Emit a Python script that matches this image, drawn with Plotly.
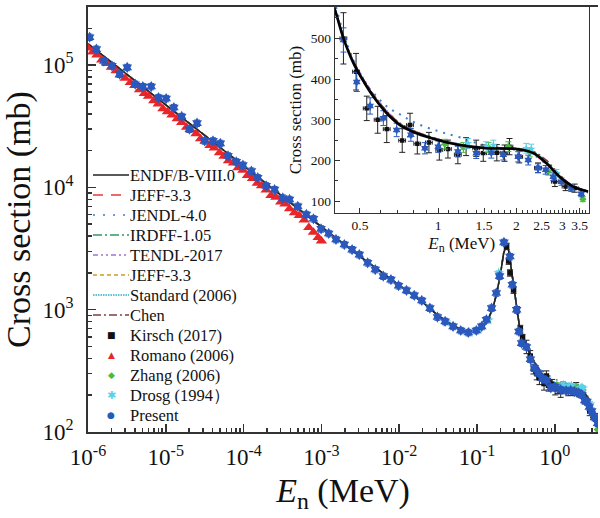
import plotly.graph_objects as go

# ---------------- data ----------------
eval_E = [1e-6, 3e-6, 1e-5, 3e-5, 1e-4, 3e-4, 1e-3, 3e-3, 0.01, 0.02, 0.03, 0.05, 0.07, 0.085,
          0.1, 0.12, 0.14, 0.16, 0.18, 0.2, 0.22, 0.24, 0.255, 0.27, 0.29, 0.32, 0.35, 0.38,
          0.401, 0.432, 0.472, 0.508, 0.563, 0.634, 0.713, 0.826, 1.0, 1.21, 1.53, 2.0, 2.32,
          2.61, 2.93, 3.30, 3.77]
endf = [149000, 86000, 47200, 27300, 14950, 8650, 4750, 2780, 1580, 1150, 920, 735, 668, 655,
        675, 735, 840, 1030, 1380, 1950, 2900, 3400, 3050, 2350, 1650, 1050, 740, 610,
        569, 500, 439, 402, 357, 316, 287, 267, 250, 238, 230, 228, 218,
        193, 160, 136, 124]
jeff = [149500, 86200, 47300, 27350, 14980, 8660, 4760, 2785, 1585, 1155, 925, 738, 670, 657,
        678, 738, 845, 1035, 1390, 1960, 2920, 3420, 3060, 2360, 1660, 1055, 742, 612,
        570, 501, 441, 404, 359, 318, 289, 268, 251, 239, 231, 228, 216,
        190, 158, 135, 123]
jendl = [149000, 86000, 47200, 27300, 14950, 8650, 4750, 2780, 1580, 1150, 925, 740, 672, 660,
         680, 740, 845, 1040, 1390, 1960, 2880, 3380, 3040, 2360, 1680, 1080, 770, 630,
         585, 512, 446, 400, 366, 333, 313, 291, 272, 257, 236, 226, 214,
         190, 158, 134, 121]
irdff = [149000, 86100, 47250, 27300, 14960, 8655, 4755, 2782, 1582, 1152, 921, 736, 669, 656,
         676, 736, 842, 1032, 1385, 1955, 2910, 3410, 3055, 2355, 1655, 1052, 741, 611,
         570, 502, 442, 405, 360, 319, 290, 270, 252, 240, 232, 229, 219,
         194, 160, 136, 124]
tendl = [148500, 85800, 47100, 27250, 14930, 8640, 4745, 2778, 1578, 1148, 919, 734, 667, 654,
         674, 734, 838, 1028, 1375, 1945, 2890, 3390, 3045, 2345, 1648, 1048, 745, 615,
         573, 505, 445, 409, 363, 322, 292, 270, 252, 240, 231, 228, 217,
         192, 159, 135, 123]
jeff33b = [149200, 86050, 47220, 27310, 14955, 8652, 4752, 2781, 1581, 1151, 921, 736, 668, 655,
           676, 736, 841, 1031, 1382, 1952, 2905, 3405, 3052, 2352, 1652, 1051, 741, 611,
           570, 501, 440, 403, 358, 317, 288, 268, 251, 239, 231, 229, 219,
           194, 161, 137, 125]
standard = [149000, 86000, 47200, 27300, 14950, 8650, 4750, 2780, 1580, 1150, 920, 735, 668, 655,
            675, 735, 840, 1030, 1380, 1950, 2900, 3400, 3050, 2350, 1650, 1050, 740, 610,
            569, 501, 440, 403, 358, 317, 288, 268, 252, 240, 232, 230, 221,
            196, 162, 137, 124]
chen = [149000, 86000, 47200, 27300, 14950, 8650, 4750, 2780, 1580, 1150, 920, 735, 668, 655,
        675, 735, 840, 1030, 1380, 1950, 2900, 3400, 3050, 2350, 1650, 1050, 742, 612,
        571, 503, 443, 406, 362, 321, 291, 270, 252, 239, 231, 229, 222,
        200, 165, 138, 125]

present_E = [1.05e-6, 1.28e-6, 1.6e-6, 2.03e-6, 2.55e-6, 3.19e-6, 4.04e-6, 5.07e-6, 6.49e-6, 8.05e-6,
             1.01e-5, 1.27e-5, 1.6e-5, 2.01e-5, 2.52e-5, 3.16e-5, 4.04e-5, 5.02e-5, 6.3e-5, 8.05e-5,
             9.8e-5, 1.26e-4, 1.52e-4, 1.95e-4, 2.5e-4, 3.19e-4, 3.89e-4, 4.97e-4, 6.4e-4, 7.9e-4,
             9.9e-4, 1.24e-3, 1.54e-3, 1.97e-3, 2.48e-3, 3.07e-3, 3.93e-3, 4.92e-3, 6.24e-3, 7.83e-3,
             9.8e-3, 1.24e-2, 1.56e-2, 1.95e-2, 2.48e-2, 3.1e-2, 3.89e-2, 4.92e-2, 6.18e-2, 7.73e-2,
             9.8e-2, 0.115, 0.132, 0.154, 0.177, 0.195, 0.222, 0.265, 0.284, 0.323, 0.345, 0.374,
             0.432, 0.486, 0.547, 0.615, 0.692, 0.785, 0.889, 1.0, 1.19, 1.40, 1.60, 1.78, 2.03,
             2.22, 2.42, 2.59, 2.77, 2.98, 3.25, 3.55]
present_xs = [169000, 135000, 108000, 98700, 84300, 95700, 69800, 66800, 66800, 54300,
              53300, 45000, 38000, 29900, 33500, 24000, 24000, 22900, 18100, 16200,
              15200, 13600, 12000, 10300, 9600, 8200, 7970, 7000, 6010, 5540,
              4580, 4200, 3750, 3410, 3100, 2820, 2420, 2130, 1880, 1760,
              1570, 1440, 1310, 1190, 1030, 871, 802, 730, 676, 651,
              676, 730, 828, 1030, 1370, 1880, 3550, 2720, 1600, 1000, 664, 533,
              496, 393, 334, 304, 275, 263, 230, 234, 222, 218, 219, 214, 209,
              201, 181, 177, 160, 148, 132, 118]

romano_E = [1.0e-6, 1.15e-6, 1.3e-6, 1.5e-6, 1.75e-6, 2.0e-6, 2.3e-6, 2.6e-6, 3.0e-6, 3.5e-6,
            4.0e-6, 4.6e-6, 5.3e-6, 6.0e-6, 7.0e-6, 8.0e-6, 9.2e-6, 1.05e-5, 1.2e-5, 1.4e-5,
            1.6e-5, 1.85e-5, 2.1e-5, 2.45e-5, 2.8e-5, 3.2e-5, 3.7e-5, 4.2e-5, 4.9e-5, 5.6e-5,
            6.4e-5, 7.4e-5, 8.5e-5, 9.8e-5, 1.12e-4, 1.3e-4, 1.5e-4, 1.7e-4, 1.95e-4, 2.25e-4,
            2.6e-4, 3.0e-4, 3.4e-4, 3.9e-4, 4.5e-4, 5.2e-4, 6.0e-4, 6.9e-4, 7.9e-4, 9.1e-4, 1.0e-3]
romano_xs = [138000, 128000, 121000, 110000, 103000, 96000, 90000, 83000, 78000, 72000,
             68000, 63000, 58500, 55500, 51000, 48000, 44000, 41500, 39000, 36500,
             34000, 31000, 29500, 27500, 25000, 24000, 22000, 21000, 19200, 18000,
             16500, 15800, 14500, 13800, 12500, 11800, 10800, 10300, 9500, 8600,
             8300, 7600, 7300, 6700, 6200, 5900, 5400, 4700, 4300, 3900, 3650]

kirsch_E = [0.24, 0.255, 0.265, 0.295, 0.328, 0.36, 0.385,
            0.432, 0.483, 0.531, 0.585, 0.634, 0.727, 0.779, 0.831, 0.921, 1.01, 1.09, 1.19,
            1.28, 1.40, 1.49, 1.68, 1.80, 1.88, 2.05, 2.42, 2.81, 3.09, 3.35]
kirsch_xs = [3300, 2500, 2000, 1450, 1000, 700, 590,
             500, 418, 328, 300, 277, 249, 287, 241, 244, 226, 228, 214,
             234, 230, 218, 219, 218, 234, 209, 182, 148, 136, 132]
kirsch_err = [200, 150, 120, 90, 60, 45, 38,
              63, 45, 30, 33, 33, 29, 29, 25, 25, 25, 22, 22,
              22, 20, 20, 20, 20, 20, 15, 12, 12, 10, 10]

zhang_E = [1.06, 1.25, 1.56, 1.86, 2.25, 2.65, 3.6]
zhang_xs = [240, 232, 232, 234, 220, 173, 105]
zhang_err = [12, 12, 12, 12, 11, 9, 6]

drosg_E = [0.040, 0.080, 0.105, 0.14, 0.19, 1.30, 1.53, 1.63, 2.18, 2.28, 2.85, 3.25]
drosg_xs = [790, 650, 690, 820, 2000, 242, 234, 238, 230, 228, 169, 132]
drosg_err = [30, 25, 25, 30, 80, 12, 12, 12, 12, 12, 9, 7]

main_xticks = [1e-6, 1e-5, 1e-4, 1e-3, 1e-2, 1e-1, 1]
main_xticktext = ["10<sup>-6</sup>", "10<sup>-5</sup>", "10<sup>-4</sup>", "10<sup>-3</sup>",
                  "10<sup>-2</sup>", "10<sup>-1</sup>", "10<sup>0</sup>"]
main_yticks = [1e2, 1e3, 1e4, 1e5]
main_yticktext = ["10<sup>2</sup>", "10<sup>3</sup>", "10<sup>4</sup>", "10<sup>5</sup>"]
inset_xticks = [0.5, 1, 1.5, 2, 2.5, 3, 3.5]
inset_xticktext = ["0.5", "1", "1.5", "2", "2.5", "3", "3.5"]
inset_yticks = [100, 200, 300, 400, 500]

# legend entries (label, colour, kind, style)
legend_entries = [
    ("ENDF/B-VIII.0", "#222222", "line", "solid"),
    ("JEFF-3.3", "#e8383a", "line", "10px,8px"),
    ("JENDL-4.0", "#3c7fc8", "line", "2px,8px"),
    ("IRDFF-1.05", "#2e9a60", "line", "9px,3px,2px,3px"),
    ("TENDL-2017", "#a070d8", "line", "5px,3px,2px,3px,2px,3px"),
    ("JEFF-3.3", "#c8a020", "line", "4px,3px"),
    ("Standard (2006)", "#2ab0c0", "line", "1.5px,1px"),
    ("Chen", "#7a4040", "line", "8px,3px,2px,3px"),
    ("Kirsch (2017)", "#111111", "mark", "■"),
    ("Romano (2006)", "#e8262a", "mark", "▲"),
    ("Zhang (2006)", "#4cbb3c", "mark", "◆"),
    ("Drosg (1994）", "#5cd0e6", "mark", "✱"),
    ("Present", "#2a58bc", "mark", "●"),
]

# ---------------- figure ----------------
SERIF = "Liberation Serif, Times New Roman, serif"
fig = go.Figure()

evals = [
    (endf, "#222222", "solid"),
    (jeff, "#e8383a", "dash"),
    (jendl, "#3c7fc8", "2px,6px"),
    (irdff, "#2e9a60", "dashdot"),
    (tendl, "#a070d8", "5px,3px,2px,3px,2px,3px"),
    (jeff33b, "#c8a020", "4px,3px"),
    (standard, "#2ab0c0", "2px,1px"),
    (chen, "#7a4040", "8px,3px,2px,3px"),
]

for ys, col, dash in evals[1:] + evals[:1]:
    fig.add_trace(go.Scatter(x=eval_E, y=ys, mode="lines", showlegend=False,
                             line=dict(color=col, dash=dash, width=1.5),
                             xaxis="x", yaxis="y"))


def add_data(xaxis, yaxis, s):
    fig.add_trace(go.Scatter(x=romano_E, y=romano_xs, mode="markers", showlegend=False,
                             marker=dict(symbol="triangle-up", color="#e8262a", size=10 * s),
                             xaxis=xaxis, yaxis=yaxis))
    fig.add_trace(go.Scatter(x=kirsch_E, y=kirsch_xs, mode="markers", showlegend=False,
                             marker=dict(symbol="square", color="#111111", size=5.5 * s),
                             error_y=dict(type="data", array=kirsch_err, color="#222222", thickness=1, width=3),
                             error_x=dict(type="percent", value=3, color="#222222", thickness=1, width=2),
                             xaxis=xaxis, yaxis=yaxis))
    fig.add_trace(go.Scatter(x=zhang_E, y=zhang_xs, mode="markers", showlegend=False,
                             marker=dict(symbol="diamond", color="#4cbb3c", size=7 * s),
                             error_y=dict(type="data", array=zhang_err, color="#4cbb3c", thickness=1, width=3),
                             xaxis=xaxis, yaxis=yaxis))
    fig.add_trace(go.Scatter(x=drosg_E, y=drosg_xs, mode="markers", showlegend=False,
                             marker=dict(symbol="star", color="#5cd0e6", size=8 * s),
                             error_y=dict(type="data", array=drosg_err, color="#5cd0e6", thickness=1, width=3),
                             xaxis=xaxis, yaxis=yaxis))
    fig.add_trace(go.Scatter(x=present_E, y=present_xs, mode="markers", showlegend=False,
                             marker=dict(symbol="hexagram", color="#2a58bc", size=8.5 * s),
                             error_y=dict(type="percent", value=6, color="#2a58bc", thickness=1, width=3),
                             xaxis=xaxis, yaxis=yaxis))


add_data("x", "y", 1.0)

for ys, col, dash in evals[1:]:
    fig.add_trace(go.Scatter(x=eval_E, y=ys, mode="lines", showlegend=False,
                             line=dict(color=col, dash=dash, width=2.0 if dash == "2px,6px" else 1.6,
                                       shape="spline"),
                             xaxis="x2", yaxis="y2"))
add_data("x2", "y2", 0.8)
fig.add_trace(go.Scatter(x=eval_E, y=endf, mode="lines", showlegend=False,
                         line=dict(color="#000000", width=2.6, shape="spline"),
                         xaxis="x2", yaxis="y2"))

# ---------------- hand-built legend (paper coordinates of the main plot area) ----------------
PLOT_L, PLOT_R, PLOT_T, PLOT_B = 88, 598, 7, 432
def px_x(p):
    return (p - PLOT_L) / (PLOT_R - PLOT_L)
def px_y(p):
    return (PLOT_B - p) / (PLOT_B - PLOT_T)

shapes = []
annotations = []
for i, (label, col, kind, style) in enumerate(legend_entries):
    yy = px_y(175 + 20 * i)
    if kind == "line":
        shapes.append(dict(type="line", xref="paper", yref="paper", x0=px_x(93), x1=px_x(129),
                           y0=yy, y1=yy, line=dict(color=col, width=1.6, dash=style)))
    else:
        annotations.append(dict(text=style, x=px_x(111), y=yy, xref="paper", yref="paper",
                                xanchor="center", yanchor="middle", showarrow=False,
                                font=dict(size=9 if style != "✱" else 11, color=col,
                                          family="DejaVu Sans")))
    annotations.append(dict(text=label, x=px_x(128), y=yy, xref="paper", yref="paper",
                            xanchor="left", yanchor="middle", showarrow=False,
                            font=dict(size=16.5, color="#111111", family=SERIF)))

axis_common = dict(showline=True, linecolor="#333333", ticks="inside", tickcolor="#333333",
                   showgrid=False, zeroline=False, automargin=False)

minor_x = [m * 10.0 ** d for d in range(-6, 1) for m in range(2, 10)]
minor_y = [m * 10.0 ** d for d in range(2, 6) for m in range(2, 10)]
inset_minor_x = [round(0.1 * k, 1) for k in range(4, 38)]
inset_minor_y = [50 * k for k in range(1, 12)]

fig.update_layout(
    template="none",
    width=600, height=518,
    margin=dict(l=PLOT_L, r=600 - PLOT_R, t=PLOT_T, b=518 - PLOT_B, autoexpand=False),
    paper_bgcolor="white", plot_bgcolor="white",
    font=dict(family=SERIF, color="#111111"),
    showlegend=False,
    hovermode=False,
    shapes=shapes,
    annotations=annotations,
    xaxis=dict(type="log", range=[-6, 0.555], domain=[0, 1], tickvals=main_xticks,
               ticktext=main_xticktext, ticklen=8, tickwidth=1.5, linewidth=1.8, mirror=True,
               tickfont=dict(size=23, family=SERIF), ticklabelstandoff=4,
               minor=dict(tickvals=minor_x, ticks="inside", ticklen=4, tickcolor="#333333"),
               title=dict(text="<i>E</i><sub>n</sub> (MeV)", font=dict(size=34, family=SERIF),
                          standoff=9),
               **axis_common),
    yaxis=dict(type="log", range=[2, 5.475], domain=[0, 1], tickvals=main_yticks,
               ticktext=main_yticktext, ticklen=8, tickwidth=1.5, linewidth=1.8,
               tickfont=dict(size=23, family=SERIF), ticklabelstandoff=8,
               minor=dict(tickvals=minor_y, ticks="inside", ticklen=4, tickcolor="#333333"),
               title=dict(text="Cross section (mb)", font=dict(size=34, family=SERIF),
                          standoff=6),
               **axis_common),
    xaxis2=dict(type="log", range=[-0.397, 0.578], domain=[px_x(335), px_x(588.5)], anchor="y2",
                tickvals=inset_xticks, ticktext=inset_xticktext, ticklen=5, linewidth=1.2,
                tickfont=dict(size=13.5, family=SERIF),
                minor=dict(tickvals=inset_minor_x, ticks="inside", ticklen=3, tickcolor="#333333"),
                title=dict(text="<i>E</i><sub>n</sub> (MeV)", font=dict(size=17, family=SERIF),
                           standoff=4),
                **axis_common),
    yaxis2=dict(range=[71, 577], domain=[px_y(213), 1.0], anchor="x2", tickvals=inset_yticks,
                ticklen=5, linewidth=1.2, mirror=True,
                tickfont=dict(size=13.5, family=SERIF),
                minor=dict(tickvals=inset_minor_y, ticks="inside", ticklen=3, tickcolor="#333333"),
                title=dict(text="Cross section (mb)", font=dict(size=17, family=SERIF),
                           standoff=4),
                **axis_common),
)

fig.write_html("out.html", config={"displayModeBar": False, "staticPlot": True},
               post_script="document.body.style.margin='0';")
